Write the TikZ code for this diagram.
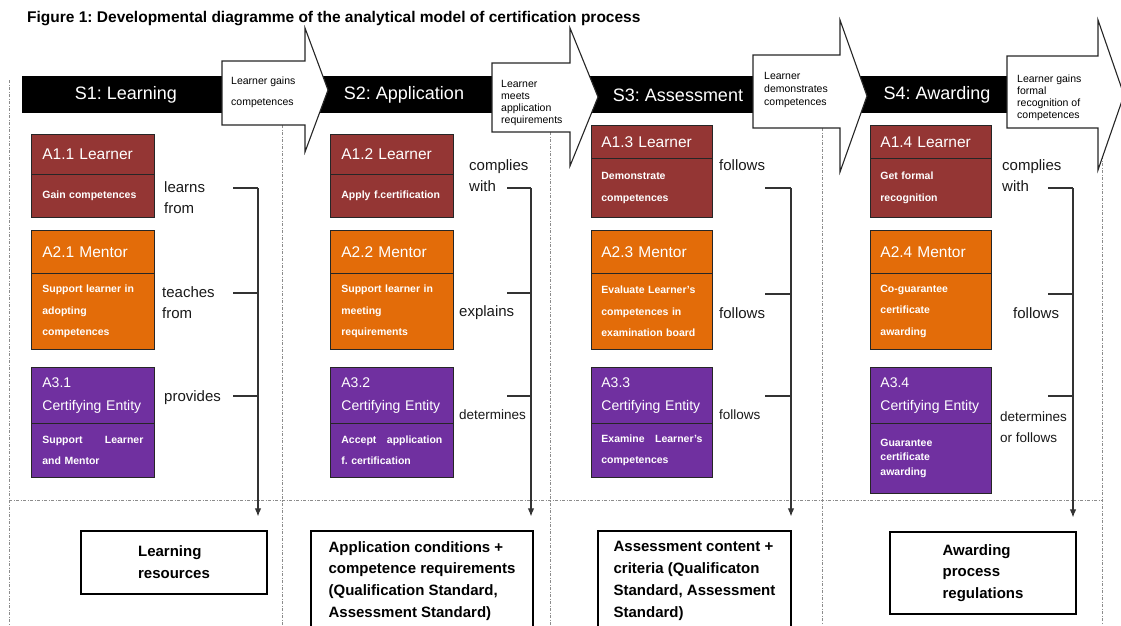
\documentclass[tikz,border=0pt]{standalone}
\usepackage{fontspec}
\setmainfont{Liberation Sans}
\usetikzlibrary{arrows.meta,calc}
\definecolor{lrn}{RGB}{148,54,52}
\definecolor{mnt}{RGB}{227,108,9}
\definecolor{crt}{RGB}{112,48,160}
\definecolor{sepgray}{RGB}{140,140,140}
\frenchspacing
\begin{document}
\begin{tikzpicture}[x=1pt,y=-1pt,
  sep/.style={draw=sepgray,line width=0.8pt,dash pattern=on 3pt off 1.5pt on 1pt off 1.5pt},
  bar/.style={fill=black,draw=none},
  callout/.style={draw=black!85,fill=white,line width=1.1pt,line join=miter},
  calltext/.style={anchor=west,inner sep=0pt,align=left,font=\fontsize{10.5}{12}\selectfont},
  stage/.style={text=white,inner sep=0pt,font=\fontsize{18}{20}\selectfont},
  cell/.style={draw=black!85,line width=0.8pt,text=white,anchor=north west,
    inner ysep=0pt,text width=101pt,align=left},
  colA/.style={inner xsep=11pt},
  colB/.style={inner xsep=10pt},
  hdr/.style={cell,font=\fontsize{15.5}{23}\selectfont},
  hdrsmall/.style={cell,font=\fontsize{14}{23}\selectfont},
  body/.style={cell,font=\bfseries\fontsize{10.5}{21.5}\selectfont},
  rel/.style={anchor=west,inner sep=0pt,align=left,text=black!90,font=\fontsize{15}{21}\selectfont},
  relsmall/.style={rel,font=\fontsize{13.5}{21}\selectfont},
  brk/.style={draw=black!80,line width=1.1pt},
  brkarrow/.style={brk,-{Latex[length=8pt,width=6.5pt]}},
  result/.style={draw=black,line width=1.2pt,align=left,inner sep=0pt,
    font=\bfseries\fontsize{15}{21.8}\selectfont}]
\useasboundingbox (0,0) rectangle (1121,625);

% title
\node[anchor=west,inner sep=0pt,font=\bfseries\fontsize{15.5}{17}\selectfont] (title) at (27,18.5)
  {Figure 1: Developmental diagramme of the analytical model of certification process};

% column separators (dash-dot)
\draw[sep] (9,80) -- (9,625);
\draw[sep] (282,125) -- (282,625);
\draw[sep] (550,132) -- (550,625);
\draw[sep] (822,128) -- (822,625);
\draw[sep] (1102,128) -- (1102,625);
\draw[sep] (9,500) -- (1102,500);

% black stage banner
\fill[bar] (22,76) rectangle (1098,113);

% transition callouts
\draw[callout] (222,61) -- (305,61) -- (305,28) -- (328,90) -- (305,152) -- (305,125) -- (222,125) -- cycle;
\draw[callout] (492,63) -- (570,63) -- (570,28) -- (598,97) -- (570,166) -- (570,132) -- (492,132) -- cycle;
\draw[callout] (753,55) -- (840,55) -- (840,20) -- (867,96) -- (840,172) -- (840,128) -- (753,128) -- cycle;
\draw[callout] (1007,56) -- (1098,56) -- (1098,20) -- (1124,95) -- (1098,170) -- (1098,128) -- (1007,128) -- cycle;

\node[calltext,font=\fontsize{10.5}{21}\selectfont] (t1) at (231,92.5) {Learner gains\\competences};
\node[calltext] (t2) at (501,103) {Learner\\meets\\application\\requirements};
\node[calltext,font=\fontsize{10.5}{13}\selectfont] (t3) at (764,90) {Learner\\demonstrates\\competences};
\node[calltext] (t4) at (1017,98) {Learner gains\\formal\\recognition of\\competences};

% stage titles
\node[stage] (s1) at (126,95) {S1: Learning};
\node[stage] (s2) at (404,95) {S2: Application};
\node[stage] (s3) at (678,95) {S3: Assessment};
\node[stage] (s4) at (937,95) {S4: Awarding};

% ---- learner row
\node[hdr,colA,fill=lrn,minimum height=40pt] (h11) at (31,134) {A1.1 Learner};
\node[body,colA,fill=lrn,minimum height=43pt] (b11) at (31,174) {Gain competences};
\node[hdr,colA,fill=lrn,minimum height=40pt] (h12) at (330,134) {A1.2 Learner};
\node[body,colA,fill=lrn,minimum height=43pt] (b12) at (330,174) {Apply f.certification};
\node[hdr,colB,fill=lrn,minimum height=33pt] (h13) at (591,125) {A1.3 Learner};
\node[body,colB,fill=lrn,minimum height=59pt] (b13) at (591,158) {Demonstrate\\competences};
\node[hdr,colB,fill=lrn,minimum height=33pt] (h14) at (870,125) {A1.4 Learner};
\node[body,colB,fill=lrn,minimum height=59pt] (b14) at (870,158) {Get formal\\recognition};

% ---- mentor row
\node[hdr,colA,fill=mnt,minimum height=43pt] (h21) at (31,230) {A2.1 Mentor};
\node[body,colA,fill=mnt,minimum height=76pt] (b21) at (31,273) {Support learner in\\adopting\\competences};
\node[hdr,colA,fill=mnt,minimum height=43pt] (h22) at (330,230) {A2.2 Mentor};
\node[body,colA,fill=mnt,minimum height=76pt] (b22) at (330,273) {Support learner in\\meeting\\requirements};
\node[hdr,colB,fill=mnt,minimum height=43pt] (h23) at (591,230) {A2.3 Mentor};
\node[body,colB,fill=mnt,minimum height=76pt] (b23) at (591,273) {Evaluate Learner's\\competences in\\examination board};
\node[hdr,colB,fill=mnt,minimum height=43pt] (h24) at (870,230) {A2.4 Mentor};
\node[body,colB,fill=mnt,minimum height=76pt] (b24) at (870,273) {Co-guarantee\\certificate\\awarding};

% ---- certifying entity row
\node[hdrsmall,colA,fill=crt,minimum height=56pt] (h31) at (31,367) {A3.1\\Certifying Entity};
\node[body,colA,fill=crt,minimum height=54pt] (b31) at (31,423) {Support\hfill Learner\\and Mentor};
\node[hdrsmall,colA,fill=crt,minimum height=56pt] (h32) at (330,367) {A3.2\\Certifying Entity};
\node[body,colA,fill=crt,minimum height=54pt] (b32) at (330,423) {Accept\hfill application\\f. certification};
\node[hdrsmall,colB,fill=crt,minimum height=56pt] (h33) at (591,367) {A3.3\\Certifying Entity};
\node[body,colB,fill=crt,minimum height=54pt] (b33) at (591,423) {Examine\hfill Learner's\\competences};
\node[hdrsmall,colB,fill=crt,minimum height=56pt] (h34) at (870,367) {A3.4\\Certifying Entity};
\node[body,colB,fill=crt,minimum height=70pt,font=\bfseries\fontsize{10.5}{14.5}\selectfont] (b34) at (870,423) {Guarantee\\certificate\\awarding};

% ---- relation labels
\node[rel] (r11) at (164,198) {learns\\from};
\node[rel] (r21) at (162,303) {teaches\\from};
\node[rel] (r31) at (164,398) {provides};
\node[rel] (r12) at (469,176) {complies\\with};
\node[rel] (r22) at (459,313) {explains};
\node[relsmall] (r32) at (459,415) {determines};
\node[rel] (r13) at (719,165) {follows};
\node[rel] (r23) at (719,313) {follows};
\node[relsmall] (r33) at (719,415) {follows};
\node[rel] (r14) at (1002,176) {complies\\with};
\node[rel] (r24) at (1013,313) {follows};
\node[relsmall] (r34) at (1000,427.5) {determines\\or follows};

% ---- resulting documents
\node[result,minimum width=186pt,minimum height=63pt] (res1) at (174,562.5) {Learning\\resources};
\node[result,minimum width=222pt,minimum height=100pt] (res2) at (422,581) {Application conditions +\\competence requirements\\(Qualification Standard,\\Assessment Standard)};
\node[result,minimum width=193pt,minimum height=100pt] (res3) at (694.5,581) {Assessment content +\\criteria (Qualificaton\\Standard, Assessment\\Standard)};
\node[result,minimum width=186pt,minimum height=82pt] (res4) at (983,573) {Awarding\\process\\regulations};

% ---- brackets gathering the relations into each stage's resource
\coordinate (k11) at (233,188); \coordinate (k21) at (233,293); \coordinate (k31) at (233,396);
\coordinate (v1) at (258,188);
\coordinate (k12) at (507,188); \coordinate (k22) at (507,293); \coordinate (k32) at (507,396);
\coordinate (v2) at (531,188);
\coordinate (k13) at (765,188); \coordinate (k23) at (765,294); \coordinate (k33) at (765,396);
\coordinate (v3) at (791,188);
\coordinate (k14) at (1048,188); \coordinate (k24) at (1048,294); \coordinate (k34) at (1048,396);
\coordinate (v4) at (1073,188);

\foreach \c in {1,2,3,4}{
  \draw[brk] (k1\c) -- (v\c);
  \draw[brk] (k2\c) -- (k2\c -| v\c);
  \draw[brk] (k3\c) -- (k3\c -| v\c);
  \draw[brkarrow] (v\c) -- ($(v\c |- res\c.north)+(0,-14)$);
}
\end{tikzpicture}
\end{document}
